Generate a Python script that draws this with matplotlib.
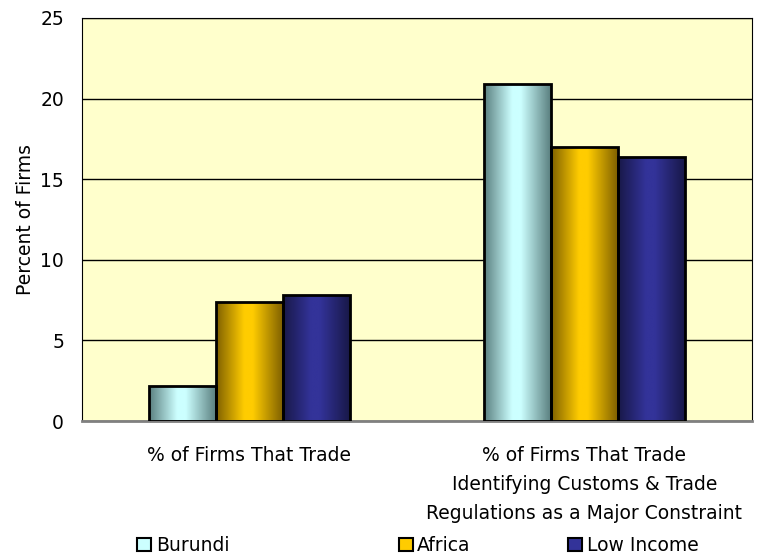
import numpy as np
import matplotlib
matplotlib.use("Agg")
import matplotlib.pyplot as plt
from matplotlib.colors import LinearSegmentedColormap
from matplotlib.patches import Patch

categories = ["% of Firms That Trade",
              "% of Firms That Trade\nIdentifying Customs & Trade\nRegulations as a Major Constraint"]
series_names = ["Burundi", "Africa", "Low Income"]
burundi = [2.2, 20.9]
africa = [7.4, 17.0]
low_income = [7.8, 16.4]
values = [burundi, africa, low_income]

# dark edge / light centre colours for the shaded bars
edge_colors = ["#5A7F7F", "#7F6000", "#181848"]
mid_colors = ["#CCFFFF", "#FFCC00", "#333399"]

plt.rcParams["font.family"] = ["DejaVu Sans"]
FS = 13.5

fig = plt.figure(figsize=(7.67, 5.55), dpi=100)
ax = fig.add_axes([0.107, 0.2414, 0.873, 0.7262])
ax.set_facecolor("#FFFFCC")

x = np.arange(len(categories))
width = 0.2
grad = np.linspace(0, 1, 256).reshape(1, -1)

for i, (name, vals) in enumerate(zip(series_names, values)):
    cmap = LinearSegmentedColormap.from_list(
        name, [(0, edge_colors[i]), (0.42, mid_colors[i]), (0.55, mid_colors[i]), (1, edge_colors[i])])
    bars = ax.bar(x + (i - 1) * width, vals, width, facecolor="none",
                  edgecolor="black", linewidth=2, zorder=3)
    for b in bars:
        x0, y0 = b.get_x(), b.get_y()
        im = ax.imshow(grad, cmap=cmap, aspect="auto", zorder=2.5,
                       extent=[x0, x0 + b.get_width(), y0, y0 + b.get_height()])
        im.set_clip_path(b)

ax.set_xlim(-0.5, 1.5)
ax.set_ylim(0, 25)
ax.set_yticks(range(0, 26, 5))
ax.yaxis.grid(True, color="black", linewidth=1)
ax.set_axisbelow(True)
ax.tick_params(axis="y", length=0, labelsize=FS, pad=13)
ax.tick_params(axis="x", length=0, labelsize=FS, pad=18)
ax.set_xticks(x)
ax.set_xticklabels(categories, linespacing=1.68, va="top")
ax.set_ylabel("Percent of Firms", fontsize=FS, labelpad=4)
for s in ["top", "left", "right"]:
    ax.spines[s].set_color("black")
ax.spines["bottom"].set_color("#808080")
ax.spines["bottom"].set_linewidth(2)

# three separate legend entries, placed like the original
legend_x = [0.159, 0.500, 0.721]
for i in range(3):
    h = Patch(facecolor=mid_colors[i], edgecolor="black", linewidth=1.5)
    leg = fig.legend([h], [series_names[i]], loc="lower left",
                     bbox_to_anchor=(legend_x[i], -0.027), frameon=False, fontsize=FS,
                     handlelength=0.75, handleheight=0.75, handletextpad=0.25,
                     borderpad=0.3)

fig.savefig("out.png", dpi=100)
